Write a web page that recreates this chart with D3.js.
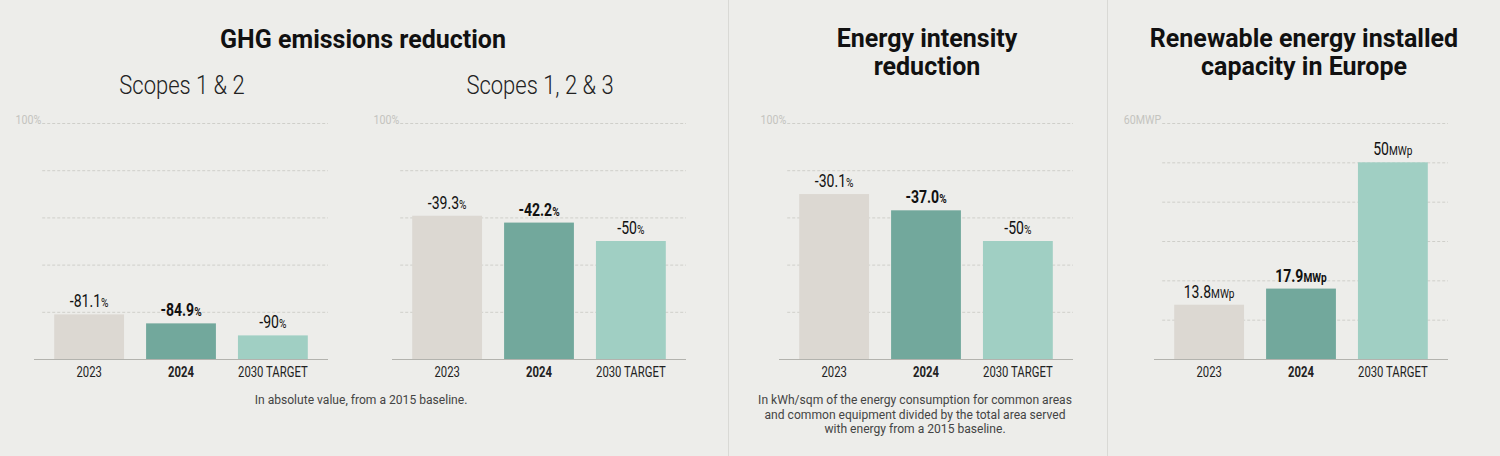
<!DOCTYPE html>
<html>
<head>
<meta charset="utf-8">
<script src="https://cdn.jsdelivr.net/npm/d3@7"></script>
<style>
  html, body { margin: 0; padding: 0; background: #ededea; }
  svg { display: block; }
  text { font-family: Roboto, sans-serif; }
  .title { font-weight: 700; font-size: 25px; fill: #111; }
  .subtitle { font-weight: 300; font-size: 25px; fill: #222; }
  .grid line { stroke: #cfcfca; stroke-dasharray: 3,2; }
  .grid path { display: none; }
  .xaxis path { display: none; }
  .xaxis text { font-size: 14.5px; fill: #222; }
  .note { font-size: 13px; fill: #444; }
</style>
</head>
<body>
<svg id="chart" width="1500" height="456"></svg>
<script>
var categories = [ '2023', '2024', '2030 TARGET' ];

var scope12 = [ -81.1, -84.9, -90 ],
    scope12Labels = [ '-81.1', '-84.9', '-90' ];
var scope123 = [ -39.3, -42.2, -50 ],
    scope123Labels = [ '-39.3', '-42.2', '-50' ];
var intensity = [ -30.1, -37.0, -50 ],
    intensityLabels = [ '-30.1', '-37.0', '-50' ];
var renewable = [ 13.8, 17.9, 50 ],
    renewableLabels = [ '13.8', '17.9', '50' ];

var pctTicks = [ 20, 40, 60, 80, 100 ],
    mwTicks = [ 10, 20, 30, 40, 50, 60 ];

var colors = [ '#dcd8d2', '#72a89c', '#a0cfc3' ];

var svg = d3.select( '#chart' );

// fake a condensed face: move x/y into a transform and squeeze horizontally
function squeeze( sel, k ) {
  sel.attr( 'transform', function() {
    var t = d3.select( this ),
        x = +t.attr( 'x' ) || 0,
        y = +t.attr( 'y' ) || 0;
    return 'translate(' + x + ',' + y + ') scale(' + k + ',1)';
  } )
  .attr( 'x', 0 ).attr( 'y', 0 );
}

// panel dividers
svg.selectAll( 'line.divider' )
  .data( [ 728.5, 1107.5 ] )
  .enter().append( 'line' )
    .attr( 'class', 'divider' )
    .attr( 'x1', function(d) { return d; } )
    .attr( 'x2', function(d) { return d; } )
    .attr( 'y1', 0 ).attr( 'y2', 456 )
    .attr( 'stroke', '#d9d9d5' );

function drawPanel( opts ) {
  var g = svg.append( 'g' ),
      baseY = 359, topY = 123;

  var x = d3.scaleBand()
    .domain( categories )
    .range( [ opts.left, opts.right ] )
    .paddingInner( 0.24 )
    .paddingOuter( 0.22 );

  var y = d3.scaleLinear()
    .domain( [ 0, opts.max ] )
    .range( [ baseY, topY ] );

  var gridLeft = x( categories[0] ) - 12;

  // dashed gridlines
  g.append( 'g' )
    .attr( 'class', 'grid' )
    .attr( 'transform', 'translate(' + gridLeft + ',0)' )
    .call( d3.axisLeft( y ).tickValues( opts.ticks ).tickSize( -( opts.right - gridLeft ) ).tickFormat( '' ) );

  // top tick label
  g.append( 'text' )
    .attr( 'x', gridLeft - 1 )
    .attr( 'y', y( opts.max ) + 1 )
    .attr( 'text-anchor', 'end' )
    .style( 'font-size', '13px' )
    .style( 'fill', '#c4c4bf' )
    .text( opts.topLabel )
    .call( squeeze, 0.82 );

  var heights = opts.values.map( opts.height );

  g.selectAll( 'rect' )
    .data( heights )
    .enter().append( 'rect' )
      .attr( 'x', function(d, i) { return x( categories[i] ); } )
      .attr( 'width', x.bandwidth() )
      .attr( 'y', function(d) { return y( d ); } )
      .attr( 'height', function(d) { return baseY - y( d ); } )
      .attr( 'fill', function(d, i) { return colors[i]; } );

  // baseline
  g.append( 'line' )
    .attr( 'x1', opts.left ).attr( 'x2', opts.right )
    .attr( 'y1', baseY + 0.5 ).attr( 'y2', baseY + 0.5 )
    .attr( 'stroke', '#b3b3ae' );

  // value labels
  var lbl = g.selectAll( 'text.value' )
    .data( heights )
    .enter().append( 'text' )
      .attr( 'class', 'value' )
      .attr( 'x', function(d, i) { return x( categories[i] ) + x.bandwidth() / 2; } )
      .attr( 'y', function(d) { return y( d ) - 7; } )
      .attr( 'text-anchor', 'middle' )
      .style( 'fill', '#111' )
      .style( 'font-weight', function(d, i) { return i === 1 ? 700 : 400; } );
  lbl.append( 'tspan' )
    .style( 'font-size', '18px' )
    .text( function(d, i) { return opts.labels[i]; } );
  lbl.append( 'tspan' )
    .style( 'font-size', '13px' )
    .text( opts.unit );
  lbl.call( squeeze, 0.78 );

  // category labels
  g.append( 'g' )
    .attr( 'class', 'xaxis' )
    .attr( 'transform', 'translate(0,' + baseY + ')' )
    .call( d3.axisBottom( x ).tickSize( 0 ).tickPadding( 8 ) )
    .selectAll( 'text' )
      .attr( 'font-family', null )
      .attr( 'font-size', null )
      .style( 'font-weight', function(d, i) { return i === 1 ? 700 : 400; } )
      .call( squeeze, 0.78 );
}

var remaining = function(v) { return 100 + v; };

drawPanel( { left: 34, right: 328, values: scope12, labels: scope12Labels, unit: '%', max: 100, ticks: pctTicks, topLabel: '100%', height: remaining } );
drawPanel( { left: 392, right: 686, values: scope123, labels: scope123Labels, unit: '%', max: 100, ticks: pctTicks, topLabel: '100%', height: remaining } );
drawPanel( { left: 779, right: 1073, values: intensity, labels: intensityLabels, unit: '%', max: 100, ticks: pctTicks, topLabel: '100%', height: remaining } );
drawPanel( { left: 1154, right: 1448, values: renewable, labels: renewableLabels, unit: 'MWp', max: 60, ticks: mwTicks, topLabel: '60MWP', height: function(v) { return v; } } );

// titles and notes
function multiline( cx, y0, lines, cls, lh, k ) {
  var t = svg.selectAll( null )
    .data( lines )
    .enter().append( 'text' )
      .attr( 'class', cls )
      .attr( 'x', cx )
      .attr( 'y', function(d, i) { return y0 + i * lh; } )
      .attr( 'text-anchor', 'middle' )
      .text( function(d) { return d; } );
  if ( k ) { t.call( squeeze, k ); }
}

multiline( 363, 48, [ 'GHG emissions reduction' ], 'title', 28 );
multiline( 927, 47, [ 'Energy intensity', 'reduction' ], 'title', 28 );
multiline( 1304, 47, [ 'Renewable energy installed', 'capacity in Europe' ], 'title', 28 );

multiline( 182, 94, [ 'Scopes 1 & 2' ], 'subtitle', 0, 0.88 );
multiline( 540, 94, [ 'Scopes 1, 2 & 3' ], 'subtitle', 0, 0.88 );

multiline( 361, 404, [ 'In absolute value, from a 2015 baseline.' ], 'note', 0, 0.93 );
multiline( 915, 404, [
  'In kWh/sqm of the energy consumption for common areas',
  'and common equipment divided by the total area served',
  'with energy from a 2015 baseline.'
], 'note', 14.5, 0.93 );
</script>
</body>
</html>
